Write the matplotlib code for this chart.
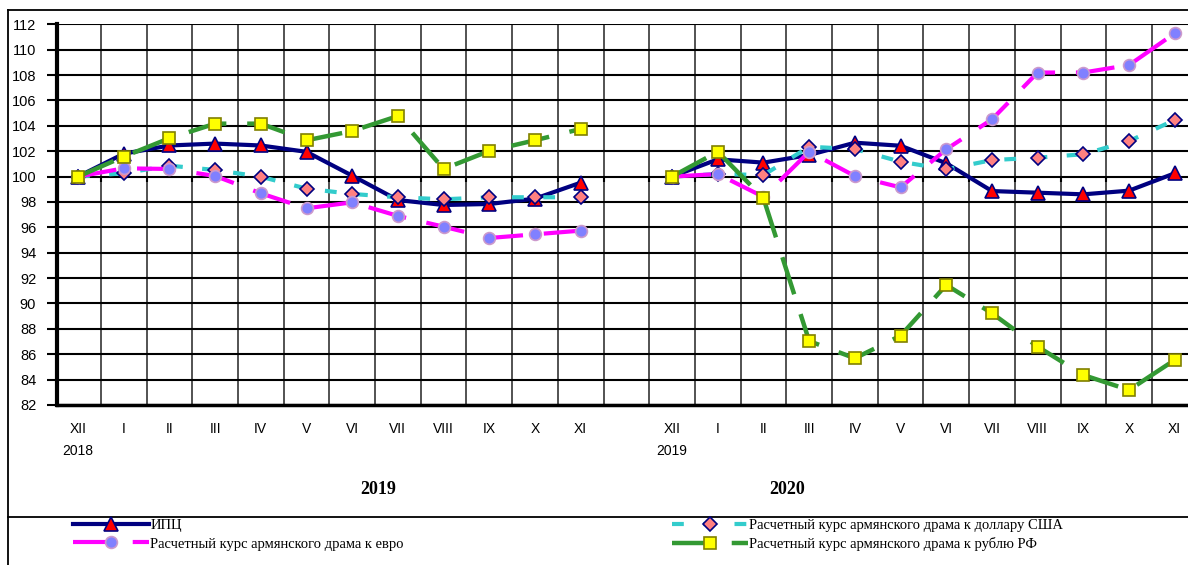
import numpy as np
import matplotlib
matplotlib.use("Agg")
import matplotlib.pyplot as plt
from matplotlib.lines import Line2D
import matplotlib.transforms as mtrans

plt.rcParams['lines.scale_dashes'] = False
plt.rcParams['font.family'] = ['Liberation Sans', 'DejaVu Sans']

# ---------------- data ----------------
months = ['XII', 'I', 'II', 'III', 'IV', 'V', 'VI', 'VII', 'VIII', 'IX', 'X', 'XI']
start_years = ['2018', '2019']
panel_years = ['2019', '2020']

cpi_2019 = [100, 101.8, 102.45, 102.6, 102.45, 101.95, 100.07, 98.15, 97.76, 97.84, 98.26, 99.52]
cpi_2020 = [100, 101.36, 101.1, 101.7, 102.67, 102.43, 101.05, 98.86, 98.73, 98.6, 98.89, 100.26]
usd_2019 = [100, 100.26, 100.86, 100.52, 99.99, 99.05, 98.63, 98.37, 98.21, 98.37, 98.37, 98.37]
usd_2020 = [100, 100.2, 100.12, 102.35, 102.17, 101.17, 100.57, 101.3, 101.49, 101.76, 102.8, 104.46]
eur_2019 = [100, 100.65, 100.6, 100.05, 98.68, 97.5, 97.97, 96.9, 96.05, 95.16, 95.45, 95.74]
eur_2020 = [100, 100.2, 98.4, 101.96, 100.04, 99.15, 102.15, 104.51, 108.2, 108.2, 108.79, 111.29]
rub_2019 = [100, 101.57, 103.02, 104.17, 104.17, 102.86, 103.59, 104.77, 100.6, 102.02, 102.86, 103.75]
rub_2020 = [100, 101.96, 98.29, 87.04, 85.68, 87.46, 91.46, 89.23, 86.6, 84.36, 83.18, 85.55]

labels = ['ИПЦ',
          'Расчетный курс армянского драма к доллару США',
          'Расчетный курс армянского драма к евро',
          'Расчетный курс армянского драма к рублю РФ']

# ---------------- figure ----------------
W, H = 1188, 565
fig = plt.figure(figsize=(W / 100, H / 100), dpi=100)
ax_l, ax_r, ax_t, ax_b = 57, 1188, 24.3, 405
ax = fig.add_axes([ax_l / W, 1 - ax_b / H, (ax_r - ax_l) / W, (ax_b - ax_t) / H])

n = len(months)
def joined(a, b):
    return np.concatenate([a, [np.nan], b])

pos = np.concatenate([np.arange(n), np.arange(n) + n + 1])

styles = [
    dict(color='#000080', lw=3.0, ls='-', marker='^', ms=9.5, mfc='#FF0000', mec='#000080', mew=1.2),
    dict(color='#33CCCC', lw=3.0, dashes=(8.5, 14), marker='D', ms=7.5, mfc='#FF8080', mec='#000080', mew=1.2),
    dict(color='#FF00FF', lw=3.0, dashes=(28, 15), marker='o', ms=8.5, mfc='#8080FF', mec='#CC99CC', mew=1.2),
    dict(color='#339933', lw=3.2, dashes=(28, 15), marker='s', ms=8.5, mfc='#FFFF00', mec='#808000', mew=1.2),
]
series = [joined(cpi_2019, cpi_2020), joined(usd_2019, usd_2020),
          joined(eur_2019, eur_2020), joined(rub_2019, rub_2020)]

xfull = np.arange(2 * n + 1, dtype=float)
handles = []
for i, (ys, st) in enumerate(zip(series, styles)):
    st = dict(st)
    if 'dashes' in st:
        d = st.pop('dashes')
        h, = ax.plot(xfull, ys, zorder=3 + i, solid_capstyle='butt', dash_capstyle='butt', **st)
        h.set_dashes(d)
    else:
        h, = ax.plot(xfull, ys, zorder=3 + i, solid_joinstyle='round', **st)
    handles.append(h)

# axes
ax.set_yticks(np.arange(82, 113, 2))
ax.tick_params(axis='y', labelsize=10.5, length=7, width=1.5, direction='out', pad=8)
ax.set_xticks(pos)
ax.set_xticklabels(months * 2, fontsize=10)
ax.tick_params(axis='x', which='major', length=0, pad=12)
ax.set_xticks(np.arange(-0.5, 2 * n + 1, 1.0), minor=True)
ax.tick_params(axis='x', which='minor', length=0)
ax.grid(axis='y', which='major', color='black', lw=1.5)
ax.grid(axis='x', which='minor', color='#444444', lw=1.3)
ax.set_axisbelow(True)
for s in ['top', 'right']:
    ax.spines[s].set_visible(False)
ax.spines['left'].set_linewidth(3)
ax.spines['bottom'].set_linewidth(2.5)

# category axis ticks at 100
gpos = np.arange(0.5, 2 * n, 1.0)
ax.vlines(gpos, 99.6, 100, color='black', lw=1.5, zorder=2)

ax.set_ylim(82, 112)
ax.set_xlim(-0.46, 24.29)

# year under first month of each panel
tr = mtrans.blended_transform_factory(ax.transData, fig.transFigure)
for k, yr in enumerate(start_years):
    ax.text(pos[k * n], 1 - 451 / H, yr, transform=tr, ha='center', va='center', fontsize=10)

# bold panel years
for xc, yr in zip([378, 787], panel_years):
    fig.text(xc / W, 1 - 489 / H, yr, ha='center', va='center', fontsize=13,
             fontweight='bold', family='Liberation Serif')

# frame lines
for (x0, y0, x1, y1) in [(8, 10, 8, 565), (8, 10, 1188, 10), (8, 517, 1188, 517)]:
    fig.add_artist(Line2D([x0 / W, x1 / W], [1 - y0 / H, 1 - y1 / H], color='black',
                          lw=1.3, transform=fig.transFigure))

# legends
common = dict(frameon=False, handlelength=5.2, handletextpad=0.1,
              labelspacing=0.35, borderpad=0, borderaxespad=0, numpoints=1,
              prop={'family': 'Liberation Serif', 'size': 10.5})
leg1 = fig.legend([handles[0], handles[2]], [labels[0], labels[2]], loc='upper left',
                  bbox_to_anchor=(73 / W, 1 - 519 / H), **common)
leg2 = fig.legend([handles[1], handles[3]], [labels[1], labels[3]], loc='upper left',
                  bbox_to_anchor=(672 / W, 1 - 519 / H), **common)

fig.savefig('out.png', dpi=100)
